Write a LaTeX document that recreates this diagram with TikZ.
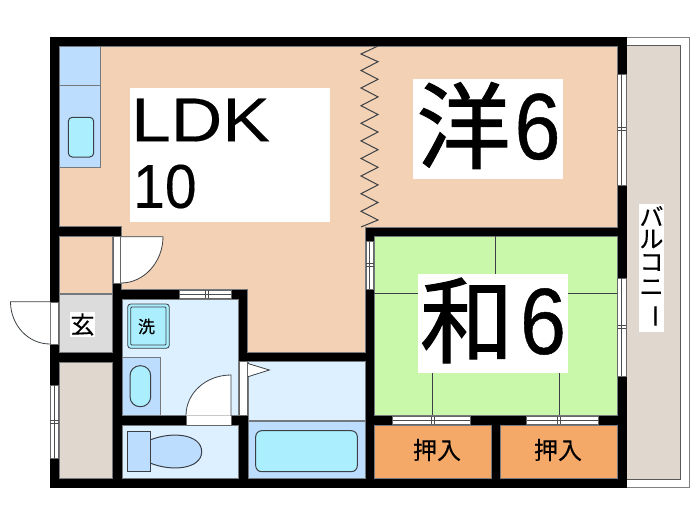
\documentclass[tikz,border=0pt]{standalone}
\usepackage{fontspec}
\usepackage{graphicx}
\setmainfont{Liberation Sans}
\newfontfamily\sansheavy[FakeBold=0.5]{Liberation Sans}
\newfontfamily\sansmid[FakeBold=0.25]{Liberation Sans}
\newfontfamily\cjk[FakeBold=0.25]{Noto Sans CJK JP}
\newfontfamily\cjkheavy[FakeBold=1.1]{Noto Sans CJK JP}
\definecolor{peach}{HTML}{F2D1B4}
\definecolor{lightblue}{HTML}{DDF0FF}
\definecolor{midblue}{HTML}{BDDDFF}
\definecolor{cyanfix}{HTML}{ABEFFF}
\definecolor{tatami}{HTML}{C9F8AA}
\definecolor{orangeroom}{HTML}{F4A968}
\definecolor{taupe}{HTML}{E0D8CF}
\definecolor{genkan}{HTML}{DCDCDC}
\definecolor{edge}{HTML}{3A4045}
\tikzset{
  wall/.style={fill=black,draw=none},
  room/.style={draw=edge!70,line width=0.5pt},
  fixture/.style={draw=edge,line width=1pt,fill=cyanfix},
  sash/.style={fill=white,draw=gray!80!black,line width=0.6pt},
  sashline/.style={draw=gray!60!black,line width=0.6pt},
  doorleaf/.style={fill=white,draw=edge,line width=0.8pt},
  label/.style={inner sep=0pt,text=black,anchor=center},
  whitebox/.style={fill=white,draw=none},
}
\newcommand{\winV}[5]{% x1 x2 y1 y2 centre
  \path[sash] (#1,#3) rectangle (#2,#4);
  \path[sashline] ({(#1+#2)/2},#3) -- ({(#1+#2)/2},#4);
  \path[sashline] (#1,#5) -- (#2,#5);
  \path[sashline] (#1,#5+3) -- (#2,#5+3);
}
\newcommand{\winH}[5]{% x1 x2 y1 y2 centre
  \path[sash] (#1,#3) rectangle (#2,#4);
  \path[sashline] (#1,{(#3+#4)/2}) -- (#2,{(#3+#4)/2});
  \path[sashline] (#5,#3) -- (#5,#4);
  \path[sashline] (#5+3,#3) -- (#5+3,#4);
}
\begin{document}
\begin{tikzpicture}[x=1pt,y=-1pt]
\useasboundingbox (0,0) rectangle (700,525);
\fill[white] (0,0) rectangle (700,525);
% balcony
\draw[draw=gray,line width=0.8pt] (626,37.5) rectangle (689,487.5);
\draw[fill=taupe,draw=gray!70!black,line width=1pt] (626,45.5) rectangle (680.5,479);
% shell
\fill[wall] (49.5,37) rectangle (626.5,487.5);
% rooms
\path[fill=peach,room] (59,46) -- (617.5,46) -- (617.5,227) -- (365,227) -- (365,352.5) -- (247.5,352.5) -- (247.5,289) -- (121,289) -- (121,226.7) -- (59,226.7) -- cycle;
\path[fill=midblue,room] (59,46) rectangle (100,167);
\path[room] (59,85.7) -- (100,85.7);
\draw[fixture,rounded corners=4pt] (68.3,117.3) rectangle (93.7,157);
\path[fill=peach,room] (59,236) rectangle (112.5,293.5);
\path[fill=genkan,room] (59,294.5) rectangle (112.5,352);
\path[fill=taupe,room] (59,362) rectangle (112.5,478);
\path[fill=lightblue,room] (122,299) rectangle (238.5,415);
\path[fill=midblue,room] (122,357) rectangle (160,415);
\draw[fixture,rounded corners=10pt] (130,365.7) rectangle (150.7,406.7);
\draw[draw=edge,line width=0.8pt,fill=cyanfix,rounded corners=3pt] (127.7,304) rectangle (169.3,348.3);
\draw[draw=edge,line width=0.8pt,fill=cyanfix,rounded corners=1pt] (130.7,307) rectangle (166,345);
\path[fill=lightblue,room] (122,425) rectangle (238.5,478);
\draw[fill=midblue,draw=edge,line width=1pt] (150,440) .. controls (172,431) and (201.5,434) .. (201.7,451.7) .. controls (201.5,469) and (172,472) .. (150,463);
\draw[fill=midblue,draw=edge,line width=1pt] (127.3,431.7) rectangle (150,471.7);
\path[fill=lightblue,room] (248,361.5) rectangle (365,420);
\path[fill=midblue,room] (248,420.8) rectangle (365,478);
\draw[fixture,rounded corners=6pt] (255.7,430.7) rectangle (357.3,471.7);
\path[fill=tatami,room] (374,236) rectangle (617.5,415);
\path[fill=orangeroom,room] (374,425) rectangle (491,478);
\path[fill=orangeroom,room] (500,425) rectangle (617.5,478);
% tatami lines
\draw[edge,line width=0.8pt] (495.7,236) -- (495.7,280);
\draw[edge,line width=0.8pt] (374,293.3) -- (617.5,293.3);
\draw[edge,line width=0.8pt] (432.7,370) -- (432.7,415);
\draw[edge,line width=0.8pt] (559,370) -- (559,415);
% zigzag
\draw[edge,line width=1pt] (378,46) -- (361,54) -- (378,61.7) -- (361,70.5) -- (378,79.3) -- (361,88) -- (378,96.9) -- (361,105.7) -- (378,114.5) -- (361,123.3) -- (378,132) -- (361,140.9) -- (378,149.7) -- (361,158.5) -- (378,167.3) -- (361,176) -- (378,184.9) -- (361,193.7) -- (378,202.5) -- (361,211.3) -- (378,220) -- (361,227);
% windows
\winV{50}{58.5}{385}{458}{420}
\winV{617.5}{626}{74}{185}{127}
\winV{617.5}{626}{278}{376}{325}
\winV{366}{373.5}{241.7}{289.3}{263}
\winH{179.3}{231}{290}{298}{205}
\winH{392.7}{470}{416.5}{424}{431}
\winH{526.7}{598.7}{416.5}{424}{557.5}
% doors
\path[sash] (113,236.5) rectangle (120.5,283);
\path[sash] (50,302) rectangle (58.5,344);
\draw[doorleaf] (121,236.7) -- (163,236.7) .. controls (163,262) and (144,283) .. (121,283);
\draw[doorleaf] (50,301.7) -- (10.5,301.7) .. controls (10.5,325) and (28,344) .. (50,344);
\path[sash] (239,361) rectangle (247.5,415);
\path[sash] (186,415.5) rectangle (231,425);
\draw[doorleaf] (231,415.5) -- (231,375) .. controls (206,375) and (186,393) .. (186,415.5);
\draw[doorleaf,line join=miter] (248,363.5) -- (269.3,370) -- (248,376.7);
% label plates
\fill[whitebox] (130,88.3) rectangle (330,221.7);
\fill[whitebox] (412.7,79.3) rectangle (562.7,179);
\fill[whitebox] (418.3,274) rectangle (567.7,373.3);
\fill[whitebox] (70,312) rectangle (95,337);
\fill[whitebox] (639,204) rectangle (664,332);
% labels
\node[label,anchor=west] (ldk) at (131,120) {\sansmid\fontsize{62}{62}\selectfont\scalebox{1.15}[1]{LDK}};
\node[label,anchor=west] (ten) at (133,186.5) {\sansmid\fontsize{62}{62}\selectfont\scalebox{0.92}[1]{10}};
\node[label] (yo) at (463.5,125.5) {\cjkheavy\fontsize{94}{94}\selectfont 洋};
\node[label] (yosix) at (537.5,126.7) {\sansheavy\fontsize{94}{94}\selectfont\scalebox{0.88}[1]{6}};
\node[label] (wa) at (467,320.5) {\cjkheavy\fontsize{94}{94}\selectfont 和};
\node[label] (wasix) at (543,321.5) {\sansheavy\fontsize{94}{94}\selectfont\scalebox{0.88}[1]{6}};
\node[label] (gen) at (82.5,324.5) {\cjk\fontsize{24}{24}\selectfont 玄};
\node[label] (sen) at (146.5,326.5) {\cjk\fontsize{17}{17}\selectfont 洗};
\node[label] (osi1) at (437,450) {\cjk\fontsize{24}{24}\selectfont 押入};
\node[label] (osi2) at (558,450) {\cjk\fontsize{24}{24}\selectfont 押入};
\node[label] (b1) at (651.5,216) {\cjk\fontsize{24}{24}\selectfont バ};
\node[label] (b2) at (651.5,239) {\cjk\fontsize{24}{24}\selectfont ル};
\node[label] (b3) at (651.5,262.5) {\cjk\fontsize{24}{24}\selectfont コ};
\node[label] (b4) at (651.5,287.5) {\cjk\fontsize{24}{24}\selectfont ニ};
\node[label,rotate=-90] (b5) at (651.5,316) {\cjk\fontsize{24}{24}\selectfont ー};
\end{tikzpicture}
\end{document}
